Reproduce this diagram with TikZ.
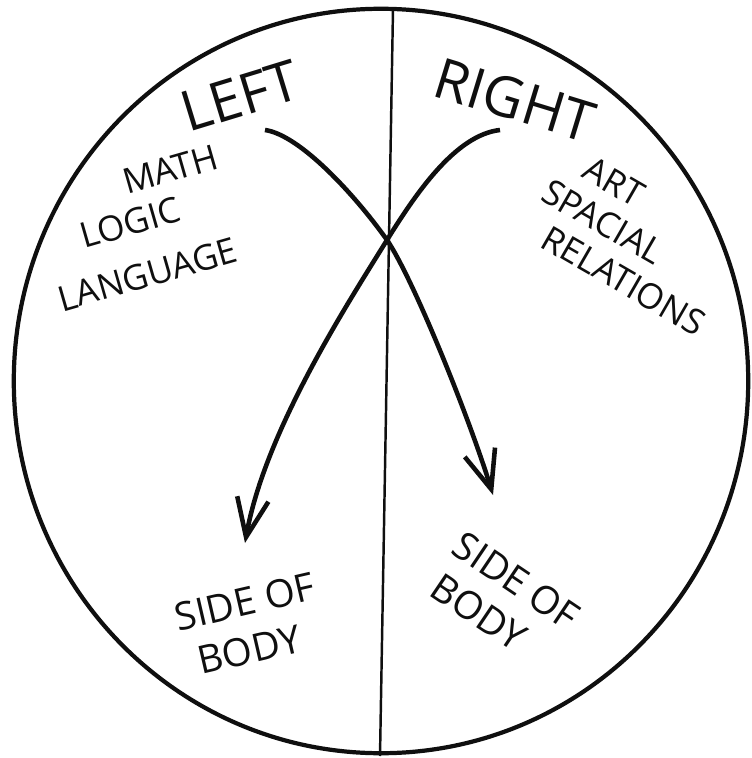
\documentclass[tikz,border=0pt]{standalone}
\usepackage{fontspec}
\setmainfont{Open Sans}
\usepackage{tikz}
\usetikzlibrary{arrows.meta, positioning}
\definecolor{myink}{RGB}{15,15,15}
\tikzset{
  heading/.style={font=\fontsize{16}{16}\selectfont, text=myink, inner sep=1pt},
  note/.style={font=\fontsize{10}{11.5}\selectfont, text=myink, inner sep=0.5pt, align=left},
  bodynote/.style={font=\fontsize{11}{13.5}\selectfont, text=myink, inner sep=0.5pt, align=left},
  arrow/.style={-{Straight Barb[length=11pt, width=9pt]}, line width=1.3pt, color=myink},
  rim/.style={line width=1.2pt, color=myink},
  divider/.style={line width=0.7pt, color=myink}
}

\begin{document}
\begin{tikzpicture}[x=0.01cm, y=-0.01cm]
  \useasboundingbox (0,0) rectangle (752,758);
  \draw[rim] (381,381) ellipse [x radius=3.67cm, y radius=3.72cm];
  \coordinate (top) at (393,9);
  \coordinate (bottom) at (380,756);
  \draw[divider] (top) -- (bottom);

  \node[heading, rotate=17] (left) at (240,96) {LEFT};
  \node[heading, rotate=-17] (right) at (515,100) {RIGHT};

  \node[note, rotate=16] (leftnotes) at (138,228)
    {\hspace*{27pt}MATH\\\hspace*{11pt}LOGIC\\[4pt]LANGUAGE};
  \node[note, rotate=-30] (rightnotes) at (634,240)
    {\hspace*{7pt}ART\\SPACIAL\\\hspace*{6.5pt}RELATIONS};

  \node[bodynote, rotate=13] (leftbody) at (250,625) {SIDE OF\\\hspace*{3.5pt}BODY};
  \node[bodynote, rotate=-34] (rightbody) at (503,600) {SIDE OF\\\hspace*{1.5pt}BODY};

  \coordinate (lstart) at (265,130);
  \coordinate (rstart) at (500,130);
  \coordinate (cross) at (387,240);
  \coordinate (lend) at (245,543);
  \coordinate (rend) at (493,495);
  \draw[arrow] (lstart) .. controls (300,135) and (355,195) .. (cross)
    .. controls (414,280) and (470,420) .. (rend);
  \draw[arrow] (rstart) .. controls (455,135) and (415,195) .. (cross)
    .. controls (350,300) and (265,430) .. (lend);
\end{tikzpicture}
\end{document}
